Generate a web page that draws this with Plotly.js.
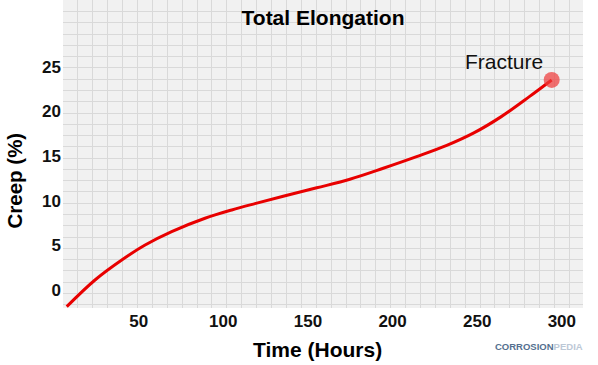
<!DOCTYPE html>
<html>
<head>
<meta charset="utf-8">
<script src="https://cdn.plot.ly/plotly-3.0.1.min.js"></script>
<style>html,body{margin:0;padding:0;background:#fff;}#chart{width:598px;height:365px;}</style>
</head>
<body>
<div id="chart"></div>
<script>
// Data
const timeHours = [7.5, 24.2, 40, 53.8, 69.5, 89.2, 105, 118.7, 135.4, 155.2, 174.8, 194.5, 214.2, 232, 248, 264, 281, 294];
const creepPct  = [-1.87, 1.12, 3.36, 5.04, 6.54, 8.04, 8.97, 9.68, 10.5, 11.45, 12.41, 13.64, 14.94, 16.2, 17.6, 19.4, 21.7, 23.54];
const fractureTime = [294];
const fractureCreep = [23.54];
const xTickVals = [50, 100, 150, 200, 250, 300];
const yTickVals = [0, 5, 10, 15, 20, 25];

const FONT = 'Liberation Sans, Arial, sans-serif';
const xRange = [5.3, 312.5];
const yRange = [-2.02, 32.5];

const traces = [
  {x: timeHours, y: creepPct, xaxis: 'x2', yaxis: 'y2', mode: 'lines',
   line: {color: 'rgb(232,0,0)', width: 3, shape: 'spline', smoothing: 1}, hoverinfo: 'skip', showlegend: false},
  {x: fractureTime, y: fractureCreep, xaxis: 'x2', yaxis: 'y2', mode: 'markers',
   marker: {size: 16, color: 'rgba(238,60,60,0.72)', line: {width: 0}}, hoverinfo: 'skip', showlegend: false},
  {x: [], y: [], xaxis: 'x', yaxis: 'y', mode: 'markers', showlegend: false, hoverinfo: 'skip'}
];

const layout = {
  width: 598, height: 365,
  margin: {l: 63, r: 15, t: 0, b: 57},
  paper_bgcolor: '#ffffff',
  plot_bgcolor: '#f1f1f1',
  showlegend: false,
  title: {text: '<b>Total Elongation</b>', font: {family: FONT, size: 21, color: '#000'},
          x: 0.5, xref: 'paper', y: 1 - 18/365, yref: 'container', yanchor: 'middle', xanchor: 'center'},
  xaxis: {range: xRange, tick0: 5.3, dtick: 8.8, showgrid: true, gridcolor: '#d9d9d9', gridwidth: 1,
          showticklabels: false, ticks: '', zeroline: false, showline: false, fixedrange: true},
  yaxis: {range: yRange, tick0: -1.65, dtick: 1.2635, showgrid: true, gridcolor: '#d9d9d9', gridwidth: 1,
          showticklabels: false, ticks: '', zeroline: false, showline: false, fixedrange: true},
  xaxis2: {overlaying: 'x', side: 'bottom', range: xRange, tickvals: xTickVals, ticktext: xTickVals.map(v => '<b>' + v + '</b>'),
           showgrid: false, zeroline: false, showline: false, ticks: '', ticklabelstandoff: 1,
           tickfont: {family: FONT, size: 17, color: '#111'}, fixedrange: true},
  yaxis2: {overlaying: 'y', side: 'left', range: yRange, tickvals: yTickVals, ticktext: yTickVals.map(v => '<b>' + v + '</b>'),
           showgrid: false, zeroline: false, showline: false, ticks: '', ticklabelstandoff: 1,
           tickfont: {family: FONT, size: 17, color: '#111'}, fixedrange: true},
  annotations: [
    {text: '<b>Creep (%)</b>', xref: 'paper', yref: 'paper', x: (13.5 - 63) / 520, y: (308 - 181) / 308,
     textangle: -90, showarrow: false, xanchor: 'center', yanchor: 'middle', font: {family: FONT, size: 20.5, color: '#000'}},
    {text: '<b>Time (Hours)</b>', xref: 'paper', yref: 'paper', x: (317 - 63) / 520, y: (308 - 350) / 308,
     showarrow: false, xanchor: 'center', yanchor: 'middle', font: {family: FONT, size: 21, color: '#000'}},
    {text: 'Fracture', xref: 'x2', yref: 'y2', x: fractureTime[0], y: fractureCreep[0], xshift: -48, yshift: 18,
     showarrow: false, xanchor: 'center', yanchor: 'middle', font: {family: FONT, size: 21, color: '#111'}},
    {text: '<b><span style="color:#54708f">CORROSION</span><span style="color:#bcc8d6">PEDIA</span></b>',
     xref: 'paper', yref: 'paper', x: (539 - 63) / 520, y: (308 - 346) / 308,
     showarrow: false, xanchor: 'center', yanchor: 'middle', font: {family: FONT, size: 9.5}}
  ]
};

Plotly.newPlot('chart', traces, layout, {staticPlot: true, displayModeBar: false});
</script>
</body>
</html>
